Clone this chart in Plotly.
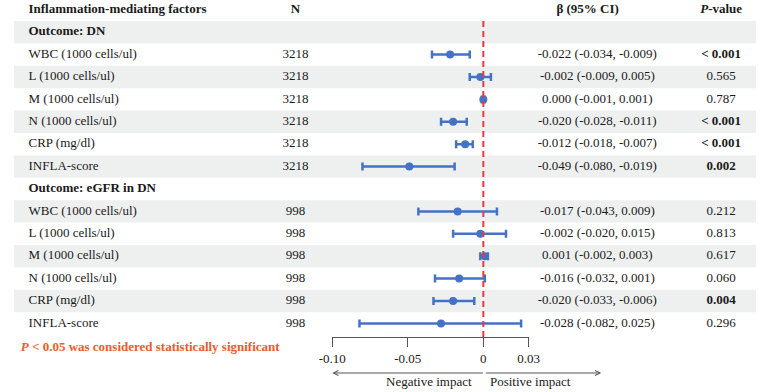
import plotly.graph_objects as go

# ---------------- data ----------------
group_titles = ["Outcome: DN", "Outcome: eGFR in DN"]
factors = ["WBC (1000 cells/ul)", "L (1000 cells/ul)", "M (1000 cells/ul)",
           "N (1000 cells/ul)", "CRP (mg/dl)", "INFLA-score"]
n_dn = [3218, 3218, 3218, 3218, 3218, 3218]
n_egfr = [998, 998, 998, 998, 998, 998]
beta_dn = [-0.022, -0.002, 0.000, -0.020, -0.012, -0.049]
lo_dn = [-0.034, -0.009, -0.001, -0.028, -0.018, -0.080]
hi_dn = [-0.009, 0.005, 0.001, -0.011, -0.007, -0.019]
p_dn = ["< 0.001", "0.565", "0.787", "< 0.001", "< 0.001", "0.002"]
beta_egfr = [-0.017, -0.002, 0.001, -0.016, -0.020, -0.028]
lo_egfr = [-0.043, -0.020, -0.002, -0.032, -0.033, -0.082]
hi_egfr = [0.009, 0.015, 0.003, 0.001, -0.006, 0.025]
p_egfr = ["0.212", "0.813", "0.617", "0.060", "0.004", "0.296"]
tick_vals = [-0.10, -0.05, 0, 0.03]
tick_text = ["-0.10", "-0.05", "0", "0.03"]

# ---------------- layout constants ----------------
W, H = 767, 392
ROW_PX = 22.4
TOP_PX = 21
FONT = "Liberation Serif, Times New Roman, serif"
TXT = "#1a1a1a"
BLUE = "#4472C4"
RED = "#E8383D"
BAND = "#EEF0F0"
COL_LABEL, COL_N, COL_BETA, COL_P = 15, 291, 603, 731

def px_to_row(py):
    return 0.5 + (py - TOP_PX) / ROW_PX

rows = []
for title, n, b, lo, hi, p in [
    (group_titles[0], n_dn, beta_dn, lo_dn, hi_dn, p_dn),
    (group_titles[1], n_egfr, beta_egfr, lo_egfr, hi_egfr, p_egfr),
]:
    rows.append((title, None, None, None, None, None, True))
    for i, f in enumerate(factors):
        rows.append((f, n[i], b[i], lo[i], hi[i], p[i], False))

def fmt(v):
    return f"{v:.3f}"

xs, ys, ep, em = [], [], [], []
shapes = []
left_txt, center_txt = [], []

for k, (lab, n, b, lo, hi, p, is_title) in enumerate(rows):
    r = k + 1
    if k % 2 == 0:
        shapes.append(dict(type="rect", xref="paper", x0=0, x1=1, yref="y",
                           y0=r - 0.5, y1=r + 0.5, fillcolor=BAND,
                           line=dict(width=0), layer="below"))
    if is_title:
        left_txt.append((COL_LABEL, r, f"<b>{lab}</b>"))
        continue
    left_txt.append((COL_LABEL, r, lab))
    center_txt.append((COL_N, r, str(n)))
    center_txt.append((COL_BETA, r, f"{fmt(b)} ({fmt(lo)}, {fmt(hi)})"))
    ptxt = p.replace("<", "&lt;")
    if p.startswith("<") or float(p.replace("<", "").strip()) < 0.05:
        ptxt = f"<b>{ptxt}</b>"
    center_txt.append((COL_P, r, ptxt))
    xs.append(b)
    ys.append(r)
    ep.append(hi - b)
    em.append(b - lo)

left_txt.append((COL_LABEL, 0, "<b>Inflammation-mediating factors</b>"))
center_txt += [(COL_N, 0, "<b>N</b>"), (593, 0, "<b>β (95% CI)</b>"),
               (COL_P, 0, "<b><i>P</i>-value</b>")]
left_txt.append((492, px_to_row(383), "Positive impact"))

fig = go.Figure()

def text_trace(items, pos, color=TXT):
    return go.Scatter(x=[t[0] for t in items], y=[t[1] for t in items],
                      text=[t[2] for t in items], mode="text", textposition=pos,
                      textfont=dict(family=FONT, size=13, color=color),
                      xaxis="x2", yaxis="y", showlegend=False, hoverinfo="skip",
                      cliponaxis=False)

fig.add_trace(text_trace(left_txt, "middle right"))
fig.add_trace(text_trace(center_txt, "middle center"))
fig.add_trace(text_trace([(473, px_to_row(383), "Negative impact")], "middle left"))
fig.add_trace(text_trace([(7, px_to_row(348),
                           "<b><i>P</i> &lt; 0.05 was considered statistically significant</b>")],
                         "middle right", color="#F05A28"))

# forest markers
fig.add_trace(go.Scatter(
    x=xs, y=ys, mode="markers",
    marker=dict(color=BLUE, size=8),
    error_x=dict(type="data", array=ep, arrayminus=em, color=BLUE,
                 thickness=2.5, width=4),
    xaxis="x", yaxis="y",
    showlegend=False, hoverinfo="skip", cliponaxis=False,
))

# impact arrows
arrow_y = px_to_row(373)
annotations = [
    dict(text="", xref="paper", yref="y", x=329 / W, y=arrow_y,
         axref="pixel", ayref="pixel", ax=152, ay=0, showarrow=True,
         arrowhead=5, arrowsize=1, arrowwidth=1, arrowcolor="#555"),
    dict(text="", xref="paper", yref="y", x=607 / W, y=arrow_y,
         axref="pixel", ayref="pixel", ax=-117, ay=0, showarrow=True,
         arrowhead=5, arrowsize=1, arrowwidth=1, arrowcolor="#555"),
]

shapes.append(dict(type="line", xref="x", x0=0, x1=0, yref="y",
                   y0=0.5, y1=px_to_row(337),
                   line=dict(color=RED, width=2, dash="6px,4px"), layer="above"))

fig.update_layout(
    width=W, height=H,
    margin=dict(l=0, r=0, t=0, b=0),
    paper_bgcolor="white", plot_bgcolor="rgba(0,0,0,0)",
    font=dict(family=FONT, size=13, color=TXT),
    annotations=annotations,
    shapes=shapes,
    xaxis=dict(domain=[329 / W, 532 / W], range=[-0.10, 0.03],
               anchor="free", position=1 - 337 / H, side="bottom",
               showline=True, linecolor="#555", linewidth=1,
               ticks="outside", ticklen=9, tickwidth=1, tickcolor="#555",
               tickvals=tick_vals, ticktext=tick_text,
               tickfont=dict(size=13, family=FONT, color=TXT),
               showgrid=False, zeroline=False, fixedrange=True),
    xaxis2=dict(domain=[0, 1], range=[0, W], anchor="y", visible=False,
                showgrid=False, zeroline=False, fixedrange=True),
    yaxis=dict(domain=[0, 1], range=[px_to_row(H), px_to_row(0)],
               visible=False, showgrid=False, zeroline=False, fixedrange=True),
)

fig.write_html("out.html", config={"displayModeBar": False},
               post_script="document.body.style.margin='0px';document.body.style.overflow='hidden';")
